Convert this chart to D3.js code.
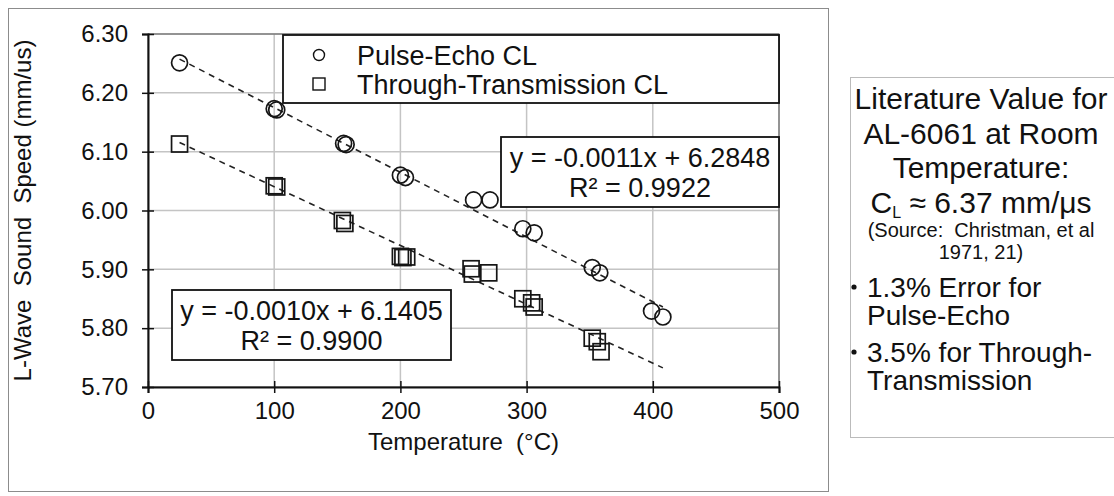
<!DOCTYPE html>
<html>
<head>
<meta charset="utf-8">
<script src="https://cdn.jsdelivr.net/npm/d3@7"></script>
<style>
  body { margin: 0; background: #fff; }
  svg text { font-family: "Liberation Sans", Arial, sans-serif; fill: #111; white-space: pre; }
</style>
</head>
<body>
<svg id="chart" width="1114" height="496"></svg>
<script>
// data
var pulseTemp = [25, 100, 102, 155, 157, 200, 204, 258, 271, 297, 306, 352, 358, 399, 408];
var pulseSpeed = [6.251, 6.173, 6.171, 6.114, 6.112, 6.060, 6.056, 6.018, 6.018, 5.969, 5.962, 5.903, 5.894, 5.829, 5.819];
var throughTemp = [25, 100, 102, 154, 156, 200, 202, 205, 256, 257, 270, 297, 304, 306, 352, 356, 359];
var throughSpeed = [6.113, 6.042, 6.040, 5.983, 5.978, 5.922, 5.920, 5.921, 5.901, 5.892, 5.894, 5.850, 5.843, 5.836, 5.783, 5.777, 5.760];
var xTicks = [0, 100, 200, 300, 400, 500];
var yTicks = [5.7, 5.8, 5.9, 6.0, 6.1, 6.2, 6.3];
// trendlines: [slope, intercept, R²]
var pulseFit = [-0.0011, 6.2848, 0.9922];
var throughFit = [-0.0010, 6.1405, 0.9900];
var fitRange = [25, 408];
var legendLabels = ["Pulse-Echo CL", "Through-Transmission CL"];

const svg = d3.select('#chart');

// outer chart border
svg.append('rect').attr('x', 8.5).attr('y', 8.5).attr('width', 820).attr('height', 483)
    .attr('fill', 'none').attr('stroke', '#8c8c8c').attr('stroke-width', 1);

// note: "top" is taken by window.top, so use plot* names
var plotLeft = 148, plotRight = 779, plotTop = 34, plotBottom = 387;
var x = d3.scaleLinear().domain([0, 500]).range([plotLeft, plotRight]);
var y = d3.scaleLinear().domain([5.7, 6.3]).range([plotBottom, plotTop]);

// gridlines
svg.append('g').selectAll('line').data(xTicks.slice(1)).join('line')
    .attr('x1', d => x(d)).attr('x2', d => x(d)).attr('y1', plotTop).attr('y2', plotBottom)
    .attr('stroke', '#c4c4c4').attr('stroke-width', 1.5);
svg.append('g').selectAll('line').data(yTicks.slice(1)).join('line')
    .attr('x1', plotLeft).attr('x2', plotRight).attr('y1', d => y(d)).attr('y2', d => y(d))
    .attr('stroke', '#c4c4c4').attr('stroke-width', 1.5);
// plot area frame
svg.append('rect').attr('x', plotLeft).attr('y', plotTop)
    .attr('width', plotRight - plotLeft).attr('height', plotBottom - plotTop)
    .attr('fill', 'none').attr('stroke', '#555').attr('stroke-width', 1);

// axes
var yAxis = svg.append('g').attr('transform', `translate(${plotLeft},0)`)
    .call(d3.axisLeft(y).tickValues(yTicks).tickFormat(d3.format('.2f')).tickSize(6).tickPadding(14));
yAxis.selectAll('.tick line').attr('x1', 6);
var xAxis = svg.append('g').attr('transform', `translate(0,${plotBottom})`)
    .call(d3.axisBottom(x).tickValues(xTicks).tickSize(6).tickPadding(9));
xAxis.selectAll('.tick line').attr('y1', -6);
[yAxis, xAxis].forEach(a => {
    a.select('.domain').attr('stroke', '#111').attr('stroke-width', 2);
    a.selectAll('.tick line').attr('stroke', '#111').attr('stroke-width', 1.5);
    a.selectAll('.tick text').style('font-size', '24px').attr('fill', '#111');
});

// axis titles
svg.append('text').attr('x', (plotLeft + plotRight) / 2).attr('y', 450).attr('text-anchor', 'middle')
    .style('font-size', '24px').text('Temperature  (°C)');
svg.append('text').attr('transform', `translate(31,${(plotTop + plotBottom) / 2}) rotate(-90)`)
    .attr('text-anchor', 'middle').style('font-size', '24px').text('L-Wave  Sound  Speed (mm/us)');

// trendlines
function drawFit(fit) {
    svg.append('line')
        .attr('x1', x(fitRange[0])).attr('y1', y(fit[0] * fitRange[0] + fit[1]))
        .attr('x2', x(fitRange[1])).attr('y2', y(fit[0] * fitRange[1] + fit[1]))
        .attr('stroke', '#222').attr('stroke-width', 1.6).attr('stroke-dasharray', '6,5');
}
drawFit(pulseFit);
drawFit(throughFit);

// markers
svg.append('g').selectAll('circle').data(pulseTemp).join('circle')
    .attr('cx', d => x(d)).attr('cy', (d, i) => y(pulseSpeed[i])).attr('r', 8)
    .attr('fill', 'none').attr('stroke', '#151515').attr('stroke-width', 1.7);
svg.append('g').selectAll('rect').data(throughTemp).join('rect')
    .attr('x', d => x(d) - 8).attr('y', (d, i) => y(throughSpeed[i]) - 8)
    .attr('width', 16).attr('height', 16)
    .attr('fill', 'none').attr('stroke', '#151515').attr('stroke-width', 1.7);

// legend
var legend = svg.append('g');
legend.append('rect').attr('x', 283).attr('y', 35).attr('width', plotRight - 283).attr('height', 68)
    .attr('fill', '#fff').attr('stroke', '#111').attr('stroke-width', 1.8);
legend.append('circle').attr('cx', 319).attr('cy', 55).attr('r', 5.5)
    .attr('fill', 'none').attr('stroke', '#111').attr('stroke-width', 1.4);
legend.append('rect').attr('x', 313).attr('y', 78).attr('width', 12).attr('height', 12)
    .attr('fill', 'none').attr('stroke', '#111').attr('stroke-width', 1.4);
legend.selectAll('text').data(legendLabels).join('text')
    .attr('x', 357).attr('y', (d, i) => 65 + i * 29).style('font-size', '27px').text(d => d);

// equation boxes
function fitLabel(fit, bx, by, bw) {
    var g = svg.append('g');
    g.append('rect').attr('x', bx).attr('y', by).attr('width', bw).attr('height', 70)
        .attr('fill', '#fff').attr('stroke', '#111').attr('stroke-width', 1.8);
    g.append('text').attr('x', bx + bw / 2).attr('y', by + 30).attr('text-anchor', 'middle')
        .style('font-size', '27px').text(`y = ${fit[0].toFixed(4)}x + ${fit[1].toFixed(4)}`);
    g.append('text').attr('x', bx + bw / 2).attr('y', by + 60).attr('text-anchor', 'middle')
        .style('font-size', '27px').text(`R² = ${fit[2].toFixed(4)}`);
}
fitLabel(pulseFit, 501, 137, plotRight - 501);
fitLabel(throughFit, 172, 290, 279);

// side note box
var note = svg.append('g');
note.append('rect').attr('x', 850.5).attr('y', 77.5).attr('width', 300).attr('height', 360)
    .attr('fill', '#fff').attr('stroke', '#bbb').attr('stroke-width', 1);
var cx = 981;
var centered = [['Literature Value for', 109], ['AL-6061 at Room', 144], ['Temperature:', 178]];
centered.forEach(l => note.append('text').attr('x', cx).attr('y', l[1]).attr('text-anchor', 'middle')
    .style('font-size', '30px').text(l[0]));
var cl = note.append('text').attr('x', cx).attr('y', 213).attr('text-anchor', 'middle').style('font-size', '30px');
cl.append('tspan').text('C');
cl.append('tspan').attr('dy', 5).style('font-size', '16px').text('L');
cl.append('tspan').attr('dy', -5).text(' ≈ 6.37 mm/μs');
note.append('text').attr('x', cx).attr('y', 237).attr('text-anchor', 'middle')
    .style('font-size', '20px').text('(Source:  Christman, et al');
note.append('text').attr('x', cx).attr('y', 259).attr('text-anchor', 'middle')
    .style('font-size', '20px').text('1971, 21)');
var bullets = [['1.3% Error for', 'Pulse-Echo', 297], ['3.5% for Through-', 'Transmission', 362]];
bullets.forEach(b => {
    note.append('circle').attr('cx', 854).attr('cy', b[2] - 10).attr('r', 2.6).attr('fill', '#111');
    note.append('text').attr('x', 867).attr('y', b[2]).style('font-size', '28px').text(b[0]);
    note.append('text').attr('x', 867).attr('y', b[2] + 28).style('font-size', '28px').text(b[1]);
});
</script>
</body>
</html>
